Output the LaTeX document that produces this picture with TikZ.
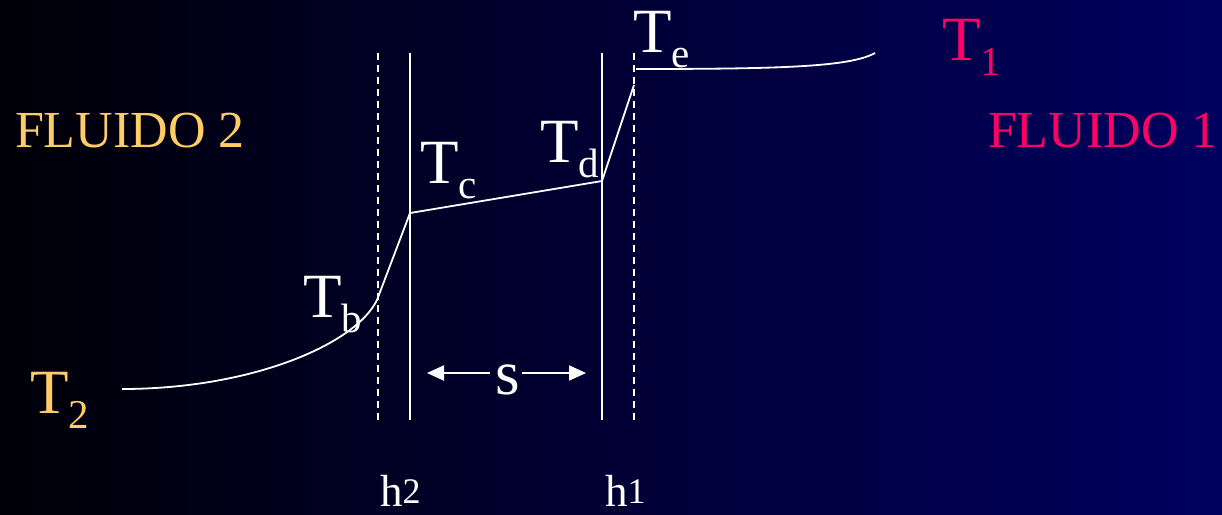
\documentclass[tikz,border=0pt]{standalone}
\usepackage{fontspec}
\setmainfont{Liberation Serif}
\usetikzlibrary{arrows.meta}
\definecolor{fyellow}{HTML}{FFCC66}
\definecolor{fpink}{HTML}{FF0066}
\definecolor{bgright}{RGB}{0,0,96}
\definecolor{bgleft}{RGB}{0,0,8}
\newcommand{\Tsub}[1]{T\raisebox{-15pt}{\fontsize{41}{41}\selectfont #1}}
\newcommand{\hsup}[1]{h\raisebox{3pt}{\fontsize{36}{36}\selectfont #1}}
\begin{document}
\begin{tikzpicture}[x=1pt,y=-1pt,
  lbl/.style={anchor=base west,inner sep=0pt,outer sep=0pt,text=white,font=\fontsize{63}{63}\selectfont},
  fluid/.style={anchor=base west,inner sep=0pt,outer sep=0pt,font=\fontsize{52}{52}\selectfont},
  hlbl/.style={anchor=base west,inner sep=0pt,outer sep=0pt,text=white,font=\fontsize{45}{45}\selectfont},
  wall/.style={white,line width=1.6pt},
  film/.style={white,line width=1.6pt,dash pattern=on 7pt off 5pt},
  prof/.style={white,line width=1.8pt,line join=round},
  dim/.style={white,line width=2pt,-{Triangle[length=17pt,width=15pt]}}]
\shade[left color=bgleft,right color=bgright] (0,0) rectangle (1222,514);
\useasboundingbox (0,0) rectangle (1222,514);
% wall and film lines
\coordinate (d2t) at (378,53); \coordinate (d2b) at (378,420);
\coordinate (w2t) at (410,53); \coordinate (w2b) at (410,420);
\coordinate (w1t) at (602,53); \coordinate (w1b) at (602,420);
\coordinate (d1t) at (634,53); \coordinate (d1b) at (634,420);
\draw[film] (d2t) -- (d2b);
\draw[wall] (w2t) -- (w2b);
\draw[wall] (w1t) -- (w1b);
\draw[film] (d1t) -- (d1b);
% temperature profile
\coordinate (p2) at (122,389);
\coordinate (pb) at (377,300);
\coordinate (pc) at (410,213);
\coordinate (pd) at (602,181);
\coordinate (pe) at (634,85);
\coordinate (pe2) at (636,69);
\coordinate (p1) at (875,53);
\draw[prof] (p2) .. controls (250,389) and (355,345) .. (pb) -- (pc) -- (pd) -- (pe);
\draw[prof] (pe2) .. controls (780,69) and (850,67) .. (p1);
% labels
\node[lbl] (Tc) at (420,183) {\Tsub{c}};
\node[lbl] (Td) at (540,162) {\Tsub{d}};
\node[lbl] (Te) at (633,52) {\Tsub{e}};
\node[lbl] (Tb) at (303,317) {\Tsub{b}};
\node[lbl,text=fyellow] (T2) at (30,413) {\Tsub{2}};
\node[lbl,text=fpink] (T1) at (942,60) {\Tsub{1}};
\node[fluid,text=fyellow] (F2) at (15,147) {FLUIDO 2};
\node[fluid,text=fpink] (F1) at (988,147) {FLUIDO 1};
\node[hlbl] (h2) at (380,506) {\hsup{2}};
\node[hlbl] (h1) at (605,506) {\hsup{1}};
% thickness s
\node[lbl,anchor=base] (s) at (508,394) {s};
\coordinate (sL) at (490,373); \coordinate (sLe) at (427,373);
\coordinate (sR) at (522,373); \coordinate (sRe) at (586,373);
\draw[dim] (sL) -- (sLe);
\draw[dim] (sR) -- (sRe);
\end{tikzpicture}
\end{document}
